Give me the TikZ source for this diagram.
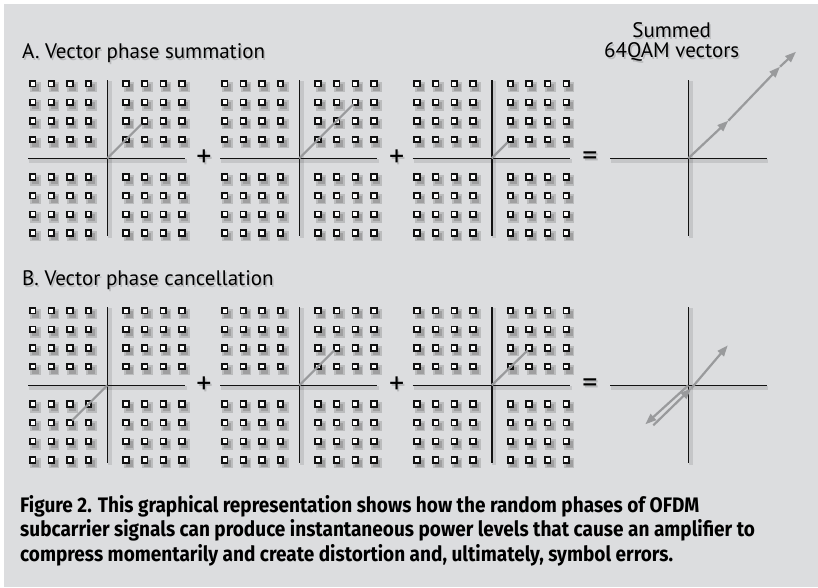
\documentclass[tikz,border=0pt]{standalone}
\usepackage{fontspec}
\setmainfont{PT Sans}
\newfontfamily\capfont[FakeStretch=0.905]{Fira Sans}
\usetikzlibrary{arrows.meta, calc}
\definecolor{panel}{HTML}{DCDDDF}
\definecolor{vecgray}{HTML}{999A9C}
\definecolor{ink}{HTML}{121212}

\begin{document}
\begin{tikzpicture}[x=1pt, y=-1pt,
  ax/.style={line width=1.6pt, ink},
  axshade/.style={line width=3.5pt, black, opacity=0.10},
  pt/.style={draw=ink, line width=1.7pt, fill=white},
  ptshade/.style={fill=black, opacity=0.15},
  vec/.style={line width=2.2pt, vecgray},
  arr/.style={line width=2.2pt, vecgray, -{Triangle[length=11pt, width=8pt]}},
  ttl/.style={anchor=base west, inner sep=0pt, font=\fontsize{21}{24}\selectfont},
  tshade/.style={text=black, text opacity=0.16},
  sgn/.style={inner sep=0pt, font=\fontsize{30}{30}\selectfont}
]
\useasboundingbox (0,0) rectangle (818,587);
\fill[white] (0,0) rectangle (818,587);
\fill[panel] (4,4) rectangle (818,587);

% section titles, with a soft shade under each
\foreach \txt/\y/\nm in {A. Vector phase summation/58/ta,
    B. Vector phase cancellation/285/tb} {
  \node[ttl, tshade] at (23.5,\y+2) {\txt};
  \node[ttl] (\nm) at (22,\y) {\txt};
}

% 64QAM constellations with one vector each
\foreach \ox/\oy/\vx/\vy/\nm in {107.3/158.3/34/-34/a1, 299.3/158.3/54/-54/a2,
    491.7/158.3/16/-16/a3, 107.3/385.3/-35/35/b1, 299.3/385.3/35/-35/b2,
    491.7/385.3/36/-35/b3} {
  \coordinate (\nm o) at (\ox,\oy);
  \coordinate (\nm v) at (\ox+\vx,\oy+\vy);
  \foreach \px in {-74.6,-56,-37.4,-18.8,18.8,37.4,56,74.6}
    \foreach \py in {-74.6,-56,-37.4,-18.8,18.8,37.4,56,74.6} {
      \fill[ptshade] (\ox+\px-2.5,\oy+\py-2) rectangle +(10.5,10.5);
      \fill[ptshade] (\ox+\px-0.5,\oy+\py) rectangle +(7,7);
    }
  \draw[axshade] (\ox-78,\oy+2.5) -- (\ox+80,\oy+2.5);
  \draw[axshade] (\ox+2.5,\oy-77) -- (\ox+2.5,\oy+80);
  \draw[ax] (\ox-79,\oy) -- (\ox+78,\oy);
  \draw[ax] (\ox,\oy-78) -- (\ox,\oy+78);
  \foreach \px in {-74.6,-56,-37.4,-18.8,18.8,37.4,56,74.6}
    \foreach \py in {-74.6,-56,-37.4,-18.8,18.8,37.4,56,74.6}
      \draw[pt] (\ox+\px-2.8,\oy+\py-2.8) rectangle +(5.6,5.6);
  \draw[vec] (\nm o) -- (\nm v);
}

% plus and equal signs between the plots
\foreach \y/\r in {158.3/a, 385.3/b} {
  \node[sgn, tshade] at (205.5,\y+2) {+};
  \node[sgn] (\r p1) at (204,\y) {+};
  \node[sgn, tshade] at (398.2,\y+2) {+};
  \node[sgn] (\r p2) at (396.7,\y) {+};
  \node[sgn, tshade] at (591.5,\y+2) {=};
  \node[sgn] (\r eq) at (590,\y) {=};
}

% summed vectors
\foreach \oy/\nm in {158.3/s1, 385.3/s2} {
  \coordinate (\nm o) at (688.3,\oy);
  \draw[axshade] (611,\oy+2.5) -- (768,\oy+2.5);
  \draw[axshade] (690.8,\oy-77) -- (690.8,\oy+80);
  \draw[ax] (610,\oy) -- (766.7,\oy);
  \draw[ax] (688.3,\oy-78) -- (688.3,\oy+78);
}
\node[align=center, inner sep=0pt, tshade, font=\fontsize{21}{20}\selectfont]
  at (673.2,43.5) {Summed\\64QAM vectors};
\node[align=center, inner sep=0pt, font=\fontsize{21}{20}\selectfont]
  (lbl) at (671.7,41.5) {Summed\\64QAM vectors};

\coordinate (s1a) at ($(s1o)+(40,-37.6)$);
\coordinate (s1b) at ($(s1o)+(91.7,-91.6)$);
\coordinate (s1c) at ($(s1o)+(107.7,-106.6)$);
\draw[arr] (s1o) -- (s1a);
\draw[arr] (s1a) -- (s1b);
\draw[arr] (s1b) -- (s1c);

\coordinate (s2a) at ($(s2o)+(-43,39)$);
\coordinate (s2b) at ($(s2o)+(-35,40)$);
\coordinate (s2c) at ($(s2o)+(3,3)$);
\coordinate (s2d) at ($(s2o)+(39.5,-40)$);
\draw[arr] (s2o) -- (s2a);
\draw[arr] (s2b) -- (s2c);
\draw[arr] (s2c) -- (s2d);

% caption
\node[anchor=north west, align=left, inner sep=0pt,
  font=\capfont\bfseries\fontsize{21}{24.5}\selectfont] (cap) at (20,495)
  {Figure 2. This graphical representation shows how the random phases of OFDM\\
   subcarrier signals can produce instantaneous power levels that cause an amplifier to\\
   compress momentarily and create distortion and, ultimately, symbol errors.};
\end{tikzpicture}
\end{document}
